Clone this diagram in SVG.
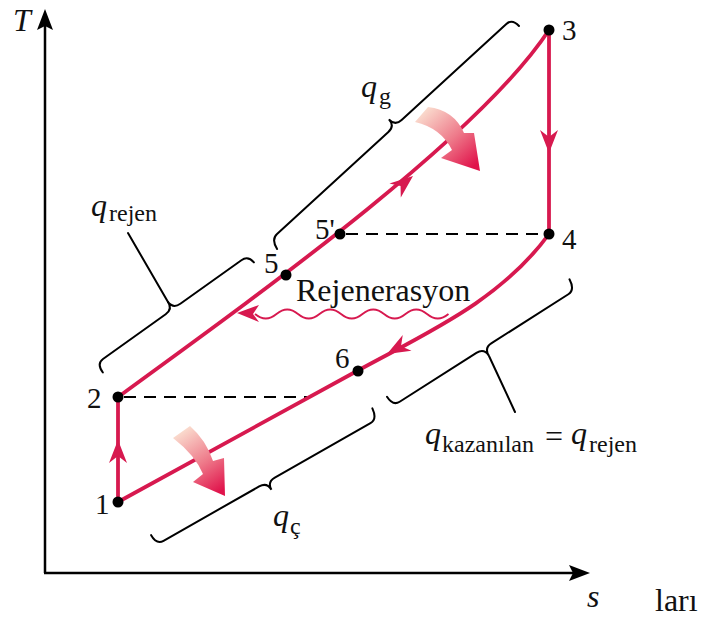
<svg xmlns="http://www.w3.org/2000/svg" width="703" height="623" viewBox="0 0 703 623">
<style>
.lbl{font-family:"Liberation Serif","Times New Roman",serif;fill:#111;}
.num{font-size:29px;}
.q{font-size:32px;font-style:italic;}
.sub{font-size:24px;}
.ax{stroke:#000;stroke-width:2.5;fill:none;}
.red{stroke:#d7194f;stroke-width:3.8;fill:none;}
.dash{stroke:#000;stroke-width:2;stroke-dasharray:12 8;fill:none;}
.brace{stroke:#000;stroke-width:2;fill:none;stroke-linecap:round;}
.dot{fill:#000;}
.rh{fill:#d7194f;}
</style>
<defs>
<linearGradient id="gA" gradientUnits="userSpaceOnUse" x1="420" y1="110" x2="472" y2="168">
<stop offset="0" stop-color="#fbe3d3"/><stop offset="0.55" stop-color="#ee7a8a"/><stop offset="1" stop-color="#e0134b"/>
</linearGradient>
<linearGradient id="gB" gradientUnits="userSpaceOnUse" x1="178" y1="430" x2="220" y2="492">
<stop offset="0" stop-color="#fbe3d3"/><stop offset="0.55" stop-color="#ee7a8a"/><stop offset="1" stop-color="#e0134b"/>
</linearGradient>
<polygon id="ah" points="0,0 -23,-9 -16,0 -23,9"/>
</defs>

<g id="axes">
<line class="ax" x1="45" y1="573" x2="45" y2="24"/>
<polygon points="45,9 53,30 45,26 37,30" fill="#000"/>
<line class="ax" x1="44" y1="573" x2="575" y2="573"/>
<polygon points="590,573 569,581 573,573 569,565" fill="#000"/>
<text class="lbl q" x="13" y="31" font-size="30">T</text>
<text class="lbl q" x="587" y="607" font-size="30">s</text>
</g>

<g id="connectors">
<line class="dash" x1="124" y1="397" x2="307" y2="397"/>
<line class="dash" x1="346" y1="234" x2="545" y2="234"/>
<path class="red" d="M118,502 L118,397"/>
<path class="red" d="M118,397 C268,288 480,135 549,30"/>
<path class="red" d="M549,30 L549,234"/>
<path class="red" d="M549,234 C500,301 427,332.6 357,371 L118,502"/>
<use href="#ah" class="rh" transform="translate(118,440) rotate(-90)"/>
<use href="#ah" class="rh" transform="translate(549,153) rotate(90)"/>
<use href="#ah" class="rh" transform="translate(413,176) rotate(-39)"/>
<use href="#ah" class="rh" transform="translate(387,354) rotate(151)"/>
<path d="M255,314 q10.75,9 21.5,0 t21.5,0 t21.5,0 t21.5,0 t21.5,0 t21.5,0 t21.5,0 t21.5,0 t21.5,0" stroke="#d7194f" stroke-width="1.8" fill="none"/>
<polygon class="rh" points="237,313 259,305 253,314 259,322"/>
</g>

<g id="heat-arrows">
<path d="M415,122 L428,107 Q454,110 464,133 L474,133 L480,171 L441,158 L452,150 Q441,128 415,122 Z" fill="url(#gA)"/>
<path d="M173,438 L190,426 Q206,440 213,461 L224,458 L225,496 L193,482 L203,474 Q195,455 173,438 Z" fill="url(#gB)"/>
</g>

<g id="node-1"><circle class="dot" cx="118" cy="502" r="5.5"/><text class="lbl num" x="95" y="514">1</text></g>
<g id="node-2"><circle class="dot" cx="118" cy="397" r="5.5"/><text class="lbl num" x="87" y="408">2</text></g>
<g id="node-3"><circle class="dot" cx="549" cy="30" r="5.5"/><text class="lbl num" x="562" y="40">3</text></g>
<g id="node-4"><circle class="dot" cx="549" cy="234" r="5.5"/><text class="lbl num" x="562" y="249">4</text></g>
<g id="node-5"><circle class="dot" cx="286" cy="275" r="5.5"/><text class="lbl num" x="264" y="273">5</text></g>
<g id="node-5p"><circle class="dot" cx="340" cy="234" r="5.5"/><text class="lbl num" x="315" y="239">5'</text></g>
<g id="node-6"><circle class="dot" cx="358" cy="371" r="5.5"/><text class="lbl num" x="335" y="368">6</text></g>

<g id="label-rejenerasyon"><text class="lbl" x="296" y="301" font-size="32">Rejenerasyon</text></g>

<g id="brace-qg">
<path class="brace" transform="translate(395,126) rotate(-42.5)" d="M-170,11 Q-168,0 -160,0 L-9,0 Q0,0 0,-9 Q0,0 9,0 L151,0 Q159,0 159,10"/>
<text class="lbl q" x="361" y="97">q</text><text class="lbl sub" x="379" y="104" font-size="23">g</text>
</g>

<g id="brace-qrejen">
<path class="brace" transform="translate(173,309) rotate(-35.5)" d="M-94,11 Q-94,0 -86,0 L-9,0 Q0,0 0,-9 Q0,0 9,0 L84,0 Q92,0 93,9"/>
<line class="brace" x1="168" y1="302" x2="128" y2="233"/>
<text class="lbl q" x="91" y="216">q</text><text class="lbl sub" x="109" y="221">rejen</text>
</g>

<g id="brace-qkazanilan">
<path class="brace" transform="translate(484,348) rotate(147.5)" d="M-109,12 Q-108,0 -100,0 L-9,0 Q0,0 0,-9 Q0,0 9,0 L100,0 Q108,0 108,11"/>
<line class="brace" x1="489" y1="356" x2="515" y2="412"/>
<text class="lbl q" x="425" y="444">q</text><text class="lbl sub" x="442" y="452">kazanılan</text>
<text class="lbl" x="545" y="447" font-size="32">=</text>
<text class="lbl q" x="571" y="444">q</text><text class="lbl sub" x="589" y="452">rejen</text>
</g>

<g id="brace-qc">
<path class="brace" transform="translate(267,482) rotate(150.4)" d="M-128,12 Q-127,0 -119,0 L-9,0 Q0,0 0,-9 Q0,0 9,0 L119,0 Q127,0 127,11"/>
<text class="lbl q" x="273" y="526">q</text><text class="lbl sub" x="290" y="534" font-size="23">ç</text>
</g>

<text class="lbl" x="655" y="611" font-size="32">ları</text>
</svg>
